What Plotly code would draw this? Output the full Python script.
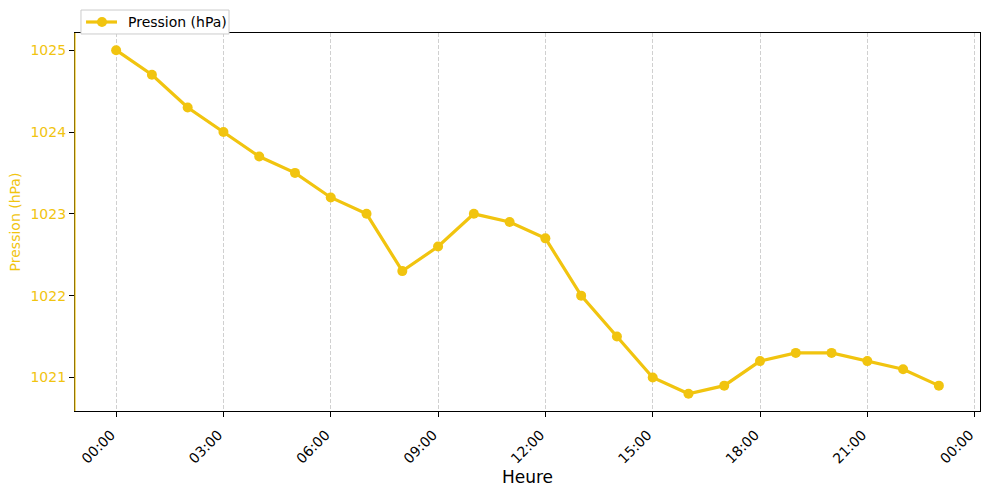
import plotly.graph_objects as go

# données horaires de pression
heures = ["00:00", "01:00", "02:00", "03:00", "04:00", "05:00", "06:00", "07:00",
          "08:00", "09:00", "10:00", "11:00", "12:00", "13:00", "14:00", "15:00",
          "16:00", "17:00", "18:00", "19:00", "20:00", "21:00", "22:00", "23:00"]
pression = [1025.0, 1024.7, 1024.3, 1024.0, 1023.7, 1023.5, 1023.2, 1023.0,
            1022.3, 1022.6, 1023.0, 1022.9, 1022.7, 1022.0, 1021.5, 1021.0,
            1020.8, 1020.9, 1021.2, 1021.3, 1021.3, 1021.2, 1021.1, 1020.9]
y_ticks = [1021, 1022, 1023, 1024, 1025]
nom_serie = "Pression (hPa)"

jour = "2024-01-01"
x = [f"{jour} {h}" for h in heures]
jaune = "#F1C40F"

fig = go.Figure()
fig.add_trace(go.Scatter(
    x=x, y=pression, mode="lines+markers", name=nom_serie,
    line=dict(color=jaune, width=3.2),
    marker=dict(color=jaune, size=10),
    showlegend=False,
))

fig.update_layout(
    width=989, height=493,
    margin=dict(l=75, r=9, t=33, b=82),
    paper_bgcolor="white", plot_bgcolor="white",
    font=dict(family="DejaVu Sans", size=14, color="black"),
    xaxis=dict(
        type="date", automargin=False,
        range=["2023-12-31 22:51", "2024-01-02 00:09"],
        dtick=3 * 3600 * 1000, tick0=f"{jour} 00:00",
        tickformat="%H:%M", tickangle=-45,
        ticklabelshift=-5, ticklabelstandoff=4,
        ticks="outside", ticklen=5, tickcolor="black",
        showgrid=True, gridcolor="#d0d0d0", griddash="4px,2px", gridwidth=1,
        showline=True, linecolor="black", linewidth=1.2, mirror=True,
        zeroline=False,
        title=dict(text="Heure", font=dict(size=17, color="black"), standoff=4),
        tickfont=dict(size=14, color="black"),
    ),
    yaxis=dict(
        automargin=False,
        range=[1020.59, 1025.21],
        tickvals=y_ticks,
        ticks="outside", ticklen=5, tickcolor="black",
        showgrid=False, zeroline=False,
        showline=True, linecolor="black", linewidth=1.2, mirror=True,
        tickfont=dict(size=14, color=jaune),
        title=dict(text=nom_serie, font=dict(size=14, color=jaune), standoff=6),
    ),
)

# axe gauche en jaune
fig.add_shape(type="line", xref="paper", yref="paper", x0=0, x1=0, y0=0, y1=1,
              line=dict(color=jaune, width=1.2), layer="above")

# légende dessinée à la main (cadre, trait, point, texte)
fig.add_shape(type="rect", xref="paper", yref="paper",
              x0=0.0066, x1=0.1702, y0=0.9974, y1=1.0608,
              line=dict(color="#cccccc", width=1), fillcolor="white", layer="above")
fig.add_shape(type="line", xref="paper", yref="paper",
              x0=0.0122, x1=0.0464, y0=1.0291, y1=1.0291,
              line=dict(color=jaune, width=3.2), layer="above")
fig.add_shape(type="circle", xref="paper", yref="paper",
              xsizemode="pixel", ysizemode="pixel",
              xanchor=0.0298, yanchor=1.0291, x0=-5, x1=5, y0=-5, y1=5,
              line=dict(color=jaune, width=0), fillcolor=jaune, layer="above")
fig.add_annotation(text=nom_serie, xref="paper", yref="paper",
                   x=0.0563, y=1.0291, xanchor="left", yanchor="middle",
                   showarrow=False, font=dict(size=14, color="black"))

# pas de marge autour du graphique dans la page, pas de barre d'outils
fig.write_html("out.html", config={"displayModeBar": False},
               post_script="document.body.style.margin='0';")
